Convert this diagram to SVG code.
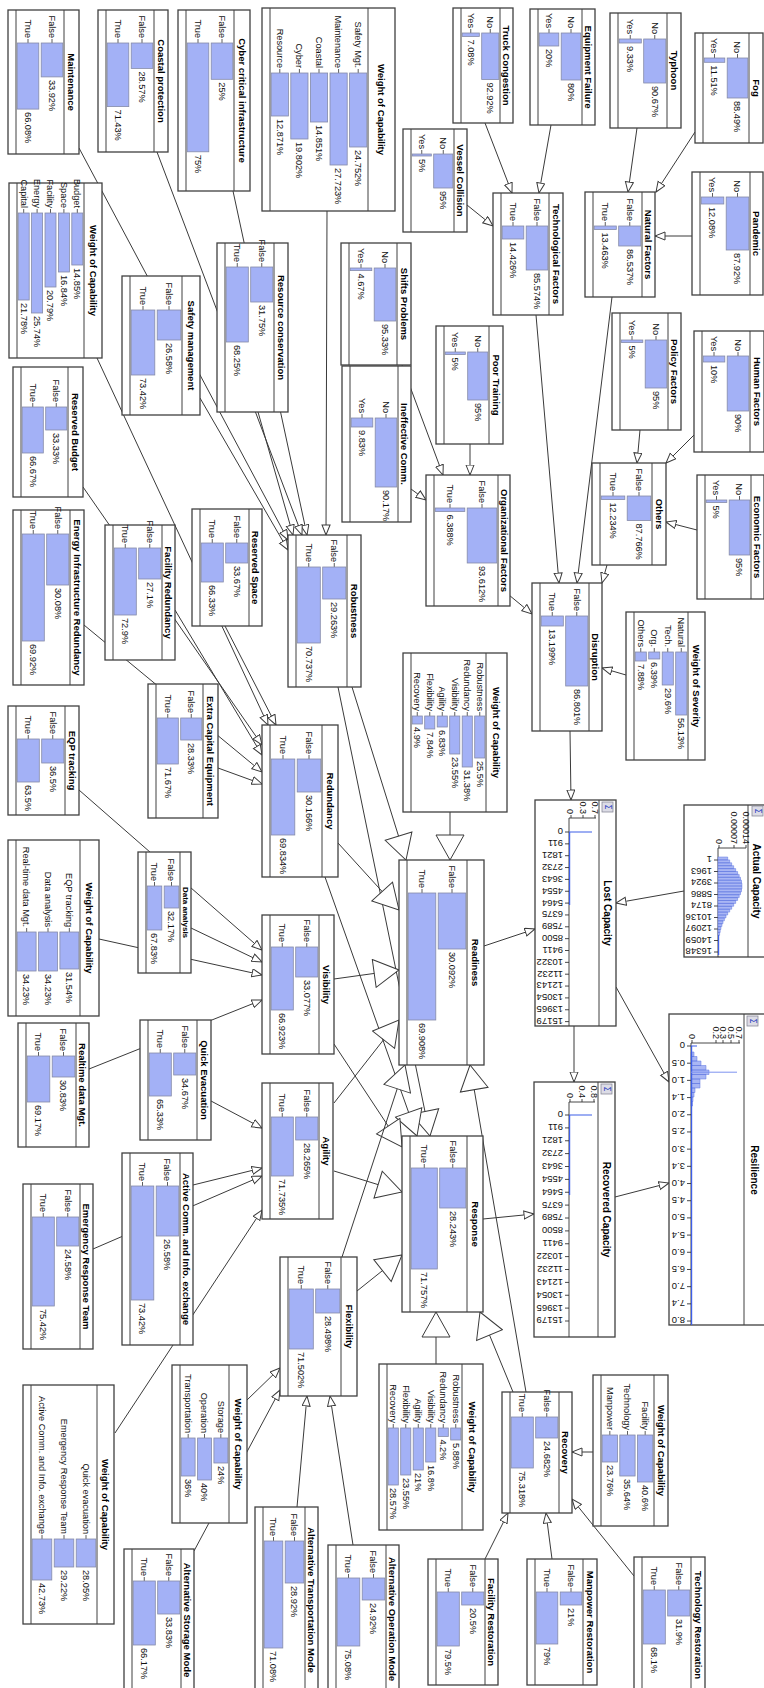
<svg xmlns="http://www.w3.org/2000/svg" width="764" height="1688" viewBox="0 0 764 1688">
<defs>
<style>
.bx{fill:#fff;stroke:#404040;stroke-width:1.3}
.ln{stroke:#404040;stroke-width:1;fill:none}
.tt{font-family:"Liberation Sans",Arial,sans-serif;font-size:9.5px;font-weight:bold;text-anchor:middle;fill:#000}
.lb{font-family:"Liberation Sans",Arial,sans-serif;font-size:9.2px;text-anchor:end;fill:#111}
.pc{font-family:"Liberation Sans",Arial,sans-serif;font-size:9.2px;fill:#111}
.tk{stroke:#333;stroke-width:.8;fill:none}
.br{fill:#a3b1f6;stroke:#858ba8;stroke-width:.8}
.ax{stroke:#333;stroke-width:.9;fill:none}
.hl{font-family:"Liberation Sans",Arial,sans-serif;font-size:9.5px;fill:#111}
.pl{font-family:"Liberation Sans",Arial,sans-serif;font-size:9px;fill:#111;text-anchor:end}
.bl{stroke:#3d5ee8;stroke-width:1.2;fill:none}
.hb{fill:#a9b6f4;stroke:#5c74e0;stroke-width:.5}
.sg{fill:#dcdce6;stroke:#8a8a9a;stroke-width:.8}
.sgt{font-family:"DejaVu Sans",sans-serif;font-size:8px;fill:#2b3fc0;text-anchor:middle}
.e{fill:none;stroke:#3a3a3a;stroke-width:1}
.s{marker-end:url(#a)}
.b{marker-end:url(#A)}
</style>
<marker id="a" markerUnits="userSpaceOnUse" viewBox="0 0 12 10" markerWidth="12" markerHeight="10" refX="10.5" refY="4.5" orient="auto"><path d="M0.5,0.5 L10.5,4.5 L0.5,8.5 z" fill="#fff" stroke="#3a3a3a" stroke-width="1"/></marker>
<marker id="A" markerUnits="userSpaceOnUse" viewBox="0 0 28 30" markerWidth="28" markerHeight="30" refX="26" refY="15" orient="auto"><path d="M1,1 L26,15 L1,29 z" fill="#fff" stroke="#3a3a3a" stroke-width="1"/></marker>
</defs>
<rect width="764" height="1688" fill="#fff"/>
<g id="connectors" class="e">
<line class="s" x1="485" y1="123" x2="512" y2="193"/>
<line class="s" x1="551" y1="125" x2="539" y2="193"/>
<line class="s" x1="467" y1="205" x2="493" y2="226"/>
<line class="s" x1="637" y1="128" x2="628" y2="192"/>
<line class="s" x1="695" y1="132" x2="656" y2="192"/>
<line class="s" x1="692" y1="236" x2="655" y2="236"/>
<line class="s" x1="612" y1="297" x2="577" y2="583"/>
<line class="s" x1="536" y1="315" x2="559" y2="583"/>
<line class="s" x1="607" y1="565" x2="602" y2="583"/>
<line class="s" x1="640" y1="430" x2="637" y2="463"/>
<line class="s" x1="694" y1="435" x2="666" y2="463"/>
<line class="s" x1="697" y1="530" x2="666" y2="522"/>
<line class="s" x1="626" y1="675" x2="602" y2="668"/>
<line class="s" x1="509" y1="595" x2="532" y2="614"/>
<line class="s" x1="402" y1="365" x2="443" y2="475"/>
<line class="s" x1="470" y1="444" x2="470" y2="475"/>
<line class="s" x1="411" y1="489" x2="426" y2="500"/>
<line class="s" x1="570" y1="731" x2="571" y2="800"/>
<line class="s" x1="684" y1="891" x2="616" y2="903"/>
<line class="s" x1="574" y1="1026" x2="574" y2="1082"/>
<line class="s" x1="616" y1="987" x2="669" y2="1082"/>
<line class="s" x1="615" y1="1197" x2="669" y2="1183"/>
<line class="s" x1="484" y1="946" x2="535" y2="929"/>
<line class="s" x1="483" y1="1219" x2="534" y2="1214"/>
<line class="s" x1="485" y1="1559" x2="508" y2="1513"/>
<line class="s" x1="552" y1="1559" x2="546" y2="1513"/>
<line class="s" x1="634" y1="1576" x2="572" y2="1499"/>
<line class="s" x1="593" y1="1452" x2="572" y2="1452"/>
<line class="b" x1="526" y1="1392" x2="470" y2="1065"/>
<line class="b" x1="513" y1="1392" x2="480" y2="1312"/>
<line class="b" x1="436" y1="1364" x2="436" y2="1312"/>
<line class="b" x1="450" y1="812" x2="450" y2="860"/>
<line class="b" x1="352" y1="687" x2="406" y2="860"/>
<line class="b" x1="338" y1="687" x2="430" y2="1136"/>
<line class="b" x1="338" y1="843" x2="399" y2="910"/>
<line class="b" x1="325" y1="877" x2="417" y2="1136"/>
<line class="b" x1="334" y1="979" x2="399" y2="970"/>
<line class="b" x1="334" y1="1044" x2="402" y2="1147"/>
<line class="b" x1="334" y1="1103" x2="399" y2="1020"/>
<line class="b" x1="334" y1="1171" x2="402" y2="1192"/>
<line class="b" x1="342" y1="1257" x2="405" y2="1065"/>
<line class="b" x1="357" y1="1291" x2="402" y2="1255"/>
<line class="s" x1="327" y1="211" x2="326" y2="535"/>
<line class="s" x1="233" y1="191" x2="307" y2="535"/>
<line class="s" x1="157" y1="152" x2="302" y2="535"/>
<line class="s" x1="258" y1="412" x2="293" y2="535"/>
<line class="s" x1="79" y1="148" x2="288" y2="540"/>
<line class="s" x1="200" y1="398" x2="288" y2="550"/>
<line class="s" x1="97" y1="358" x2="268" y2="725"/>
<line class="s" x1="225" y1="626" x2="276" y2="725"/>
<line class="s" x1="83" y1="487" x2="262" y2="745"/>
<line class="s" x1="175" y1="610" x2="262" y2="755"/>
<line class="s" x1="84" y1="625" x2="262" y2="772"/>
<line class="s" x1="218" y1="768" x2="262" y2="784"/>
<line class="s" x1="79" y1="790" x2="262" y2="950"/>
<line class="s" x1="191" y1="928" x2="262" y2="962"/>
<line class="s" x1="99" y1="939" x2="262" y2="975"/>
<line class="s" x1="89" y1="1069" x2="262" y2="1000"/>
<line class="s" x1="211" y1="1101" x2="262" y2="1128"/>
<line class="s" x1="193" y1="1185" x2="262" y2="1168"/>
<line class="s" x1="93" y1="1249" x2="262" y2="1176"/>
<line class="s" x1="115" y1="1433" x2="262" y2="1210"/>
<line class="s" x1="247" y1="1400" x2="280" y2="1368"/>
<line class="s" x1="194" y1="1551" x2="280" y2="1390"/>
<line class="s" x1="297" y1="1507" x2="307" y2="1396"/>
<line class="s" x1="353" y1="1545" x2="330" y2="1396"/>
</g>
<g id="nodes">
<g id="n-maintenance" transform="translate(79,10) rotate(90)"><rect class="bx" width="144" height="71"/><path class="ln" d="M0 15H144M0 63H144"/><text class="tt" x="72" y="10.8">Maintenance</text><path class="tk" d="M29 27H33M29 51H33"/><text class="lb" x="28" y="30.2">False</text><rect class="br" x="33" y="16.2" width="33.9" height="21.6"/><text class="pc" x="69.9" y="30.2">33.92%</text><text class="lb" x="28" y="54.2">True</text><rect class="br" x="33" y="40.2" width="66.1" height="21.6"/><text class="pc" x="102.1" y="54.2">66.08%</text></g>
<g id="n-coastal" transform="translate(168,10) rotate(90)"><rect class="bx" width="142" height="70"/><path class="ln" d="M0 14H142M0 62H142"/><text class="tt" x="71" y="10.3">Coastal protection</text><path class="tk" d="M29 26H33M29 50H33"/><text class="lb" x="28" y="29.2">False</text><rect class="br" x="33" y="15.2" width="25.4" height="21.6"/><text class="pc" x="61.4" y="29.2">28.57%</text><text class="lb" x="28" y="53.2">True</text><rect class="br" x="33" y="39.2" width="63.6" height="21.6"/><text class="pc" x="99.6" y="53.2">71.43%</text></g>
<g id="n-cyber" transform="translate(250,10) rotate(90)"><rect class="bx" width="181" height="72"/><path class="ln" d="M0 16H181M0 64H181"/><text class="tt" x="90.5" y="11.3">Cyber critical infrastructure</text><path class="tk" d="M29 28H33M29 52H33"/><text class="lb" x="28" y="31.2">False</text><rect class="br" x="33" y="17.2" width="36.3" height="21.6"/><text class="pc" x="72.3" y="31.2">25%</text><text class="lb" x="28" y="55.2">True</text><rect class="br" x="33" y="41.2" width="108.8" height="21.6"/><text class="pc" x="144.8" y="55.2">75%</text></g>
<g id="n-wcap-robustness" transform="translate(395,8) rotate(90)"><rect class="bx" width="203" height="133"/><path class="ln" d="M0 27H203M0 125H203"/><text class="tt" x="101.5" y="16.8">Weight of Capability</text><path class="tk" d="M61 36.8H65M61 56.4H65M61 76H65M61 95.6H65M61 115.2H65"/><text class="lb" x="60" y="40">Safety Mgt.</text><rect class="br" x="65" y="28.2" width="74" height="17.2"/><text class="pc" x="142" y="40">24.752%</text><text class="lb" x="60" y="59.6">Maintenance</text><rect class="br" x="65" y="47.8" width="92" height="17.2"/><text class="pc" x="160" y="59.6">27.723%</text><text class="lb" x="60" y="79.2">Coastal</text><rect class="br" x="65" y="67.4" width="49" height="17.2"/><text class="pc" x="117" y="79.2">14.851%</text><text class="lb" x="60" y="98.8">Cyber</text><rect class="br" x="65" y="87" width="66" height="17.2"/><text class="pc" x="134" y="98.8">19.802%</text><text class="lb" x="60" y="118.4">Resource</text><rect class="br" x="65" y="106.6" width="43" height="17.2"/><text class="pc" x="111" y="118.4">12.871%</text></g>
<g id="n-truck" transform="translate(513,8) rotate(90)"><rect class="bx" width="115" height="60"/><path class="ln" d="M0 13H115M0 52H115"/><text class="tt" x="57.5" y="9.8">Truck Congestion</text><path class="tk" d="M21 22.75H25M21 42.25H25"/><text class="lb" x="20" y="25.95">No</text><rect class="br" x="25" y="14.2" width="46.5" height="17.1"/><text class="pc" x="74.5" y="25.95">92.92%</text><text class="lb" x="20" y="45.45">Yes</text><rect class="br" x="25" y="33.7" width="3.5" height="17.1"/><text class="pc" x="31.5" y="45.45">7.08%</text></g>
<g id="n-equipment" transform="translate(595,9) rotate(90)"><rect class="bx" width="116" height="65"/><path class="ln" d="M0 13H116M0 57H116"/><text class="tt" x="58" y="9.8">Equipment Failure</text><path class="tk" d="M20 24H24M20 46H24"/><text class="lb" x="19" y="27.2">No</text><rect class="br" x="24" y="14.2" width="47" height="19.6"/><text class="pc" x="74" y="27.2">80%</text><text class="lb" x="19" y="49.2">Yes</text><rect class="br" x="24" y="36.2" width="13" height="19.6"/><text class="pc" x="40" y="49.2">20%</text></g>
<g id="n-typhoon" transform="translate(681,13) rotate(90)"><rect class="bx" width="115" height="71"/><path class="ln" d="M0 14H115M0 63H115"/><text class="tt" x="57.5" y="10.3">Typhoon</text><path class="tk" d="M22 26.25H26M22 50.75H26"/><text class="lb" x="21" y="29.45">No</text><rect class="br" x="26" y="15.2" width="44" height="22.1"/><text class="pc" x="73" y="29.45">90.67%</text><text class="lb" x="21" y="53.95">Yes</text><rect class="br" x="26" y="39.7" width="4" height="22.1"/><text class="pc" x="33" y="53.95">9.33%</text></g>
<g id="n-fog" transform="translate(763,33) rotate(90)"><rect class="bx" width="110" height="68"/><path class="ln" d="M0 14H110M0 60H110"/><text class="tt" x="55" y="10.3">Fog</text><path class="tk" d="M21 25.5H25M21 48.5H25"/><text class="lb" x="20" y="28.7">No</text><rect class="br" x="25" y="15.2" width="40" height="20.6"/><text class="pc" x="68" y="28.7">88.49%</text><text class="lb" x="20" y="51.7">Yes</text><rect class="br" x="25" y="38.2" width="4.3" height="20.6"/><text class="pc" x="32.3" y="51.7">11.51%</text></g>
<g id="n-pandemic" transform="translate(763,172) rotate(90)"><rect class="bx" width="123" height="71"/><path class="ln" d="M0 13H123M0 63H123"/><text class="tt" x="61.5" y="9.8">Pandemic</text><path class="tk" d="M21 25.5H25M21 50.5H25"/><text class="lb" x="20" y="28.7">No</text><rect class="br" x="25" y="14.2" width="53" height="22.6"/><text class="pc" x="81" y="28.7">87.92%</text><text class="lb" x="20" y="53.7">Yes</text><rect class="br" x="25" y="39.2" width="7" height="22.6"/><text class="pc" x="35" y="53.7">12.08%</text></g>
<g id="n-natural" transform="translate(655,192) rotate(90)"><rect class="bx" width="105" height="70"/><path class="ln" d="M0 13H105M0 62H105"/><text class="tt" x="52.5" y="9.8">Natural Factors</text><path class="tk" d="M30 25.25H34M30 49.75H34"/><text class="lb" x="29" y="28.45">False</text><rect class="br" x="34" y="14.2" width="20" height="22.1"/><text class="pc" x="57" y="28.45">86.537%</text><text class="lb" x="29" y="52.95">True</text><rect class="br" x="34" y="38.7" width="3.5" height="22.1"/><text class="pc" x="40.5" y="52.95">13.463%</text></g>
<g id="n-technological" transform="translate(563,193) rotate(90)"><rect class="bx" width="122" height="70"/><path class="ln" d="M0 14H122M0 62H122"/><text class="tt" x="61" y="10.3">Technological Factors</text><path class="tk" d="M29 26H33M29 50H33"/><text class="lb" x="28" y="29.2">False</text><rect class="br" x="33" y="15.2" width="44" height="21.6"/><text class="pc" x="80" y="29.2">85.574%</text><text class="lb" x="28" y="53.2">True</text><rect class="br" x="33" y="39.2" width="13" height="21.6"/><text class="pc" x="49" y="53.2">14.426%</text></g>
<g id="n-vessel" transform="translate(467,129) rotate(90)"><rect class="bx" width="103" height="64"/><path class="ln" d="M0 13H103M0 56H103"/><text class="tt" x="51.5" y="9.8">Vessel Collision</text><path class="tk" d="M21 23.75H25M21 45.25H25"/><text class="lb" x="20" y="26.95">No</text><rect class="br" x="25" y="14.2" width="34" height="19.1"/><text class="pc" x="62" y="26.95">95%</text><text class="lb" x="20" y="48.45">Yes</text><rect class="br" x="25" y="35.7" width="2" height="19.1"/><text class="pc" x="30" y="48.45">5%</text></g>
<g id="n-safety" transform="translate(200,276) rotate(90)"><rect class="bx" width="139" height="78"/><path class="ln" d="M0 18H139M0 70H139"/><text class="tt" x="69.5" y="12.3">Safety management</text><path class="tk" d="M30 31H34M30 57H34"/><text class="lb" x="29" y="34.2">False</text><rect class="br" x="34" y="19.2" width="30" height="23.6"/><text class="pc" x="67" y="34.2">26.58%</text><text class="lb" x="29" y="60.2">True</text><rect class="br" x="34" y="45.2" width="65" height="23.6"/><text class="pc" x="102" y="60.2">73.42%</text></g>
<g id="n-resource" transform="translate(288,243) rotate(90)"><rect class="bx" width="169" height="71"/><path class="ln" d="M0 14H169M0 63H169"/><text class="tt" x="84.5" y="10.3">Resource conservation</text><path class="tk" d="M20 26.25H24M20 50.75H24"/><text class="lb" x="19" y="29.45">False</text><rect class="br" x="24" y="15.2" width="35" height="22.1"/><text class="pc" x="62" y="29.45">31.75%</text><text class="lb" x="19" y="53.95">True</text><rect class="br" x="24" y="39.7" width="75" height="22.1"/><text class="pc" x="102" y="53.95">68.25%</text></g>
<g id="n-shifts" transform="translate(411,243) rotate(90)"><rect class="bx" width="122" height="70"/><path class="ln" d="M0 14H122M0 62H122"/><text class="tt" x="61" y="10.3">Shifts Problems</text><path class="tk" d="M21 26H25M21 50H25"/><text class="lb" x="20" y="29.2">No</text><rect class="br" x="25" y="15.2" width="53" height="21.6"/><text class="pc" x="81" y="29.2">95.33%</text><text class="lb" x="20" y="53.2">Yes</text><rect class="br" x="25" y="39.2" width="2.6" height="21.6"/><text class="pc" x="30.6" y="53.2">4.67%</text></g>
<g id="n-poortraining" transform="translate(503,326) rotate(90)"><rect class="bx" width="118" height="67"/><path class="ln" d="M0 14H118M0 59H118"/><text class="tt" x="59" y="10.3">Poor Training</text><path class="tk" d="M22 25.25H26M22 47.75H26"/><text class="lb" x="21" y="28.45">No</text><rect class="br" x="26" y="15.2" width="48" height="20.1"/><text class="pc" x="77" y="28.45">95%</text><text class="lb" x="21" y="50.95">Yes</text><rect class="br" x="26" y="37.7" width="2.5" height="20.1"/><text class="pc" x="31.5" y="50.95">5%</text></g>
<g id="n-policy" transform="translate(681,313) rotate(90)"><rect class="bx" width="117" height="69"/><path class="ln" d="M0 13H117M0 61H117"/><text class="tt" x="58.5" y="9.8">Policy Factors</text><path class="tk" d="M23 25H27M23 49H27"/><text class="lb" x="22" y="28.2">No</text><rect class="br" x="27" y="14.2" width="48" height="21.6"/><text class="pc" x="78" y="28.2">95%</text><text class="lb" x="22" y="52.2">Yes</text><rect class="br" x="27" y="38.2" width="2.5" height="21.6"/><text class="pc" x="32.5" y="52.2">5%</text></g>
<g id="n-human" transform="translate(764,331) rotate(90)"><rect class="bx" width="121" height="70"/><path class="ln" d="M0 14H121M0 62H121"/><text class="tt" x="60.5" y="10.3">Human Factors</text><path class="tk" d="M21 26H25M21 50H25"/><text class="lb" x="20" y="29.2">No</text><rect class="br" x="25" y="15.2" width="55" height="21.6"/><text class="pc" x="83" y="29.2">90%</text><text class="lb" x="20" y="53.2">Yes</text><rect class="br" x="25" y="39.2" width="6" height="21.6"/><text class="pc" x="34" y="53.2">10%</text></g>
<g id="n-wcap-redundancy" transform="translate(102,183) rotate(90)"><rect class="bx" width="175" height="93"/><path class="ln" d="M0 18H175M0 85H175"/><text class="tt" x="87.5" y="12.3">Weight of Capability</text><path class="tk" d="M26 24.7H30M26 38.1H30M26 51.5H30M26 64.9H30M26 78.3H30"/><text class="lb" x="25" y="27.9">Budget</text><rect class="br" x="30" y="19.2" width="52" height="11"/><text class="pc" x="85" y="27.9">14.85%</text><text class="lb" x="25" y="41.3">Space</text><rect class="br" x="30" y="32.6" width="59" height="11"/><text class="pc" x="92" y="41.3">16.84%</text><text class="lb" x="25" y="54.7">Facility</text><rect class="br" x="30" y="46" width="74" height="11"/><text class="pc" x="107" y="54.7">20.79%</text><text class="lb" x="25" y="68.1">Energy</text><rect class="br" x="30" y="59.4" width="100" height="11"/><text class="pc" x="133" y="68.1">25.74%</text><text class="lb" x="25" y="81.5">Capital</text><rect class="br" x="30" y="72.8" width="87" height="11"/><text class="pc" x="120" y="81.5">21.78%</text></g>
<g id="n-reservedbudget" transform="translate(83,367) rotate(90)"><rect class="bx" width="130" height="70"/><path class="ln" d="M0 15H130M0 62H130"/><text class="tt" x="65" y="10.8">Reserved Budget</text><path class="tk" d="M36 26.75H40M36 50.25H40"/><text class="lb" x="35" y="29.95">False</text><rect class="br" x="40" y="16.2" width="23" height="21.1"/><text class="pc" x="66" y="29.95">33.33%</text><text class="lb" x="35" y="53.45">True</text><rect class="br" x="40" y="39.7" width="46" height="21.1"/><text class="pc" x="89" y="53.45">66.67%</text></g>
<g id="n-ineffective" transform="translate(411,366) rotate(90)"><rect class="bx" width="156" height="69"/><path class="ln" d="M0 13H156M0 61H156"/><text class="tt" x="78" y="9.8">Ineffective Comm.</text><path class="tk" d="M48 25H52M48 49H52"/><text class="lb" x="47" y="28.2">No</text><rect class="br" x="52" y="14.2" width="69" height="21.6"/><text class="pc" x="124" y="28.2">90.17%</text><text class="lb" x="47" y="52.2">Yes</text><rect class="br" x="52" y="38.2" width="9" height="21.6"/><text class="pc" x="64" y="52.2">9.83%</text></g>
<g id="n-organizational" transform="translate(510,475) rotate(90)"><rect class="bx" width="131" height="84"/><path class="ln" d="M0 12H131M0 76H131"/><text class="tt" x="65.5" y="9.3">Organizational Factors</text><path class="tk" d="M29 28H33M29 60H33"/><text class="lb" x="28" y="31.2">False</text><rect class="br" x="33" y="13.2" width="55" height="29.6"/><text class="pc" x="91" y="31.2">93.612%</text><text class="lb" x="28" y="63.2">True</text><rect class="br" x="33" y="45.2" width="3.5" height="29.6"/><text class="pc" x="39.5" y="63.2">6.388%</text></g>
<g id="n-others" transform="translate(666,463) rotate(90)"><rect class="bx" width="102" height="74"/><path class="ln" d="M0 14H102M0 66H102"/><text class="tt" x="51" y="10.3">Others</text><path class="tk" d="M29 27H33M29 53H33"/><text class="lb" x="28" y="30.2">False</text><rect class="br" x="33" y="15.2" width="24.5" height="23.6"/><text class="pc" x="60.5" y="30.2">87.766%</text><text class="lb" x="28" y="56.2">True</text><rect class="br" x="33" y="41.2" width="3.5" height="23.6"/><text class="pc" x="39.5" y="56.2">12.234%</text></g>
<g id="n-economic" transform="translate(764,475) rotate(90)"><rect class="bx" width="124" height="67"/><path class="ln" d="M0 13H124M0 59H124"/><text class="tt" x="62" y="9.8">Economic Factors</text><path class="tk" d="M21 24.5H25M21 47.5H25"/><text class="lb" x="20" y="27.7">No</text><rect class="br" x="25" y="14.2" width="55" height="20.6"/><text class="pc" x="83" y="27.7">95%</text><text class="lb" x="20" y="50.7">Yes</text><rect class="br" x="25" y="37.2" width="2.5" height="20.6"/><text class="pc" x="30.5" y="50.7">5%</text></g>
<g id="n-energy" transform="translate(84,510) rotate(90)"><rect class="bx" width="175" height="71"/><path class="ln" d="M0 14H175M0 63H175"/><text class="tt" x="87.5" y="10.3">Energy Infrastructure Redundancy</text><path class="tk" d="M20 26.25H24M20 50.75H24"/><text class="lb" x="19" y="29.45">False</text><rect class="br" x="24" y="15.2" width="51" height="22.1"/><text class="pc" x="78" y="29.45">30.08%</text><text class="lb" x="19" y="53.95">True</text><rect class="br" x="24" y="39.7" width="107" height="22.1"/><text class="pc" x="134" y="53.95">69.92%</text></g>
<g id="n-facilityred" transform="translate(175,525) rotate(90)"><rect class="bx" width="135" height="70"/><path class="ln" d="M0 13H135M0 62H135"/><text class="tt" x="67.5" y="9.8">Facility Redundancy</text><path class="tk" d="M19 25.25H23M19 49.75H23"/><text class="lb" x="18" y="28.45">False</text><rect class="br" x="23" y="14.2" width="31" height="22.1"/><text class="pc" x="57" y="28.45">27.1%</text><text class="lb" x="18" y="52.95">True</text><rect class="br" x="23" y="38.7" width="67" height="22.1"/><text class="pc" x="93" y="52.95">72.9%</text></g>
<g id="n-reservedspace" transform="translate(262,509) rotate(90)"><rect class="bx" width="117" height="70"/><path class="ln" d="M0 13H117M0 62H117"/><text class="tt" x="58.5" y="9.8">Reserved Space</text><path class="tk" d="M30 25.25H34M30 49.75H34"/><text class="lb" x="29" y="28.45">False</text><rect class="br" x="34" y="14.2" width="20" height="22.1"/><text class="pc" x="57" y="28.45">33.67%</text><text class="lb" x="29" y="52.95">True</text><rect class="br" x="34" y="38.7" width="39" height="22.1"/><text class="pc" x="76" y="52.95">66.33%</text></g>
<g id="n-robustness" transform="translate(361,535) rotate(90)"><rect class="bx" width="152" height="73"/><path class="ln" d="M0 14H152M0 65H152"/><text class="tt" x="76" y="10.3">Robustness</text><path class="tk" d="M28 26.75H32M28 52.25H32"/><text class="lb" x="27" y="29.95">False</text><rect class="br" x="32" y="15.2" width="32" height="23.1"/><text class="pc" x="67" y="29.95">29.263%</text><text class="lb" x="27" y="55.45">True</text><rect class="br" x="32" y="40.7" width="76" height="23.1"/><text class="pc" x="111" y="55.45">70.737%</text></g>
<g id="n-disruption" transform="translate(602,583) rotate(90)"><rect class="bx" width="148" height="70"/><path class="ln" d="M0 13H148M0 62H148"/><text class="tt" x="74" y="9.8">Disruption</text><path class="tk" d="M29 25.25H33M29 49.75H33"/><text class="lb" x="28" y="28.45">False</text><rect class="br" x="33" y="14.2" width="70" height="22.1"/><text class="pc" x="106" y="28.45">86.801%</text><text class="lb" x="28" y="52.95">True</text><rect class="br" x="33" y="38.7" width="10" height="22.1"/><text class="pc" x="46" y="52.95">13.199%</text></g>
<g id="n-severity" transform="translate(705,612) rotate(90)"><rect class="bx" width="148" height="79"/><path class="ln" d="M0 17H148M0 71H148"/><text class="tt" x="74" y="11.8">Weight of Severity</text><path class="tk" d="M36 23.75H40M36 37.25H40M36 50.75H40M36 64.25H40"/><text class="lb" x="35" y="26.95">Natural</text><rect class="br" x="40" y="18.2" width="63" height="11.1"/><text class="pc" x="106" y="26.95">56.13%</text><text class="lb" x="35" y="40.45">Tech.</text><rect class="br" x="40" y="31.7" width="33" height="11.1"/><text class="pc" x="76" y="40.45">29.6%</text><text class="lb" x="35" y="53.95">Org.</text><rect class="br" x="40" y="45.2" width="7" height="11.1"/><text class="pc" x="50" y="53.95">6.39%</text><text class="lb" x="35" y="67.45">Others</text><rect class="br" x="40" y="58.7" width="9" height="11.1"/><text class="pc" x="52" y="67.45">7.88%</text></g>
<g id="n-eqp" transform="translate(79,706) rotate(90)"><rect class="bx" width="109" height="71"/><path class="ln" d="M0 14H109M0 63H109"/><text class="tt" x="54.5" y="10.3">EQP tracking</text><path class="tk" d="M29 26.25H33M29 50.75H33"/><text class="lb" x="28" y="29.45">False</text><rect class="br" x="33" y="15.2" width="24" height="22.1"/><text class="pc" x="60" y="29.45">36.5%</text><text class="lb" x="28" y="53.95">True</text><rect class="br" x="33" y="39.7" width="43" height="22.1"/><text class="pc" x="79" y="53.95">63.5%</text></g>
<g id="n-extracapital" transform="translate(218,684) rotate(90)"><rect class="bx" width="134" height="70"/><path class="ln" d="M0 15H134M0 62H134"/><text class="tt" x="67" y="10.8">Extra Capital Equipment</text><path class="tk" d="M30 26.75H34M30 50.25H34"/><text class="lb" x="29" y="29.95">False</text><rect class="br" x="34" y="16.2" width="22" height="21.1"/><text class="pc" x="59" y="29.95">28.33%</text><text class="lb" x="29" y="53.45">True</text><rect class="br" x="34" y="39.7" width="46" height="21.1"/><text class="pc" x="83" y="53.45">71.67%</text></g>
<g id="n-redundancy" transform="translate(338,725) rotate(90)"><rect class="bx" width="152" height="76"/><path class="ln" d="M0 16H152M0 68H152"/><text class="tt" x="76" y="11.3">Redundancy</text><path class="tk" d="M30 29H34M30 55H34"/><text class="lb" x="29" y="32.2">False</text><rect class="br" x="34" y="17.2" width="33" height="23.6"/><text class="pc" x="70" y="32.2">30.166%</text><text class="lb" x="29" y="58.2">True</text><rect class="br" x="34" y="43.2" width="76" height="23.6"/><text class="pc" x="113" y="58.2">69.834%</text></g>
<g id="n-wcap-readiness" transform="translate(507,653) rotate(90)"><rect class="bx" width="159" height="104"/><path class="ln" d="M0 21H159M0 96H159"/><text class="tt" x="79.5" y="13.8">Weight of Capability</text><path class="tk" d="M59 27.25H63M59 39.75H63M59 52.25H63M59 64.75H63M59 77.25H63M59 89.75H63"/><text class="lb" x="58" y="30.45">Robustness</text><rect class="br" x="63" y="22.2" width="42" height="10.1"/><text class="pc" x="108" y="30.45">25.5%</text><text class="lb" x="58" y="42.95">Redundancy</text><rect class="br" x="63" y="34.7" width="51" height="10.1"/><text class="pc" x="117" y="42.95">31.38%</text><text class="lb" x="58" y="55.45">Visibility</text><rect class="br" x="63" y="47.2" width="38" height="10.1"/><text class="pc" x="104" y="55.45">23.55%</text><text class="lb" x="58" y="67.95">Agility</text><rect class="br" x="63" y="59.7" width="11" height="10.1"/><text class="pc" x="77" y="67.95">6.83%</text><text class="lb" x="58" y="80.45">Flexibility</text><rect class="br" x="63" y="72.2" width="13" height="10.1"/><text class="pc" x="79" y="80.45">7.84%</text><text class="lb" x="58" y="92.95">Recovery</text><rect class="br" x="63" y="84.7" width="8" height="10.1"/><text class="pc" x="74" y="92.95">4.9%</text></g>
<g id="n-wcap-visibility" transform="translate(99,840) rotate(90)"><rect class="bx" width="176" height="91"/><path class="ln" d="M0 19H176M0 83H176"/><text class="tt" x="88" y="12.8">Weight of Capability</text><path class="tk" d="M88 29.67H92M88 51H92M88 72.33H92"/><text class="lb" x="87" y="32.87">EQP tracking</text><rect class="br" x="92" y="20.2" width="37" height="18.9"/><text class="pc" x="132" y="32.87">31.54%</text><text class="lb" x="87" y="54.2">Data analysis</text><rect class="br" x="92" y="41.5" width="39" height="18.9"/><text class="pc" x="134" y="54.2">34.23%</text><text class="lb" x="87" y="75.53">Real-time data Mgt.</text><rect class="br" x="92" y="62.9" width="39" height="18.9"/><text class="pc" x="134" y="75.53">34.23%</text></g>
<g id="n-dataanalysis" transform="translate(191,852) rotate(90)"><rect class="bx" width="121" height="53"/><path class="ln" d="M0 11H121M0 45H121"/><text class="tt" x="60.5" y="8.3" style="font-size:8px">Data analysis</text><path class="tk" d="M30 19.5H34M30 36.5H34"/><text class="lb" x="29" y="22.7">False</text><rect class="br" x="34" y="12.2" width="22" height="14.6"/><text class="pc" x="59" y="22.7">32.17%</text><text class="lb" x="29" y="39.7">True</text><rect class="br" x="34" y="29.2" width="44" height="14.6"/><text class="pc" x="81" y="39.7">67.83%</text></g>
<g id="n-visibility" transform="translate(334,915) rotate(90)"><rect class="bx" width="139" height="72"/><path class="ln" d="M0 15H139M0 64H139"/><text class="tt" x="69.5" y="10.8">Visibility</text><path class="tk" d="M28 27.25H32M28 51.75H32"/><text class="lb" x="27" y="30.45">False</text><rect class="br" x="32" y="16.2" width="30" height="22.1"/><text class="pc" x="65" y="30.45">33.077%</text><text class="lb" x="27" y="54.95">True</text><rect class="br" x="32" y="40.7" width="63" height="22.1"/><text class="pc" x="98" y="54.95">66.923%</text></g>
<g id="n-readiness" transform="translate(484,860) rotate(90)"><rect class="bx" width="205" height="85"/><path class="ln" d="M0 17H205M0 77H205"/><text class="tt" x="102.5" y="11.8">Readiness</text><path class="tk" d="M29 32H33M29 62H33"/><text class="lb" x="28" y="35.2">False</text><rect class="br" x="33" y="18.2" width="56" height="27.6"/><text class="pc" x="92" y="35.2">30.092%</text><text class="lb" x="28" y="65.2">True</text><rect class="br" x="33" y="48.2" width="127" height="27.6"/><text class="pc" x="163" y="65.2">69.908%</text></g>
<g id="n-realtime" transform="translate(89,1023) rotate(90)"><rect class="bx" width="124" height="71"/><path class="ln" d="M0 13H124M0 63H124"/><text class="tt" x="62" y="9.8">Realtime data Mgt.</text><path class="tk" d="M29 25.5H33M29 50.5H33"/><text class="lb" x="28" y="28.7">False</text><rect class="br" x="33" y="14.2" width="21" height="22.6"/><text class="pc" x="57" y="28.7">30.83%</text><text class="lb" x="28" y="53.7">True</text><rect class="br" x="33" y="39.2" width="46" height="22.6"/><text class="pc" x="82" y="53.7">69.17%</text></g>
<g id="n-quickevac" transform="translate(211,1020) rotate(90)"><rect class="bx" width="120" height="71"/><path class="ln" d="M0 14H120M0 63H120"/><text class="tt" x="60" y="10.3">Quick Evacuation</text><path class="tk" d="M29 26.25H33M29 50.75H33"/><text class="lb" x="28" y="29.45">False</text><rect class="br" x="33" y="15.2" width="22" height="22.1"/><text class="pc" x="58" y="29.45">34.67%</text><text class="lb" x="28" y="53.95">True</text><rect class="br" x="33" y="39.7" width="43" height="22.1"/><text class="pc" x="79" y="53.95">65.33%</text></g>
<g id="n-agility" transform="translate(333,1083) rotate(90)"><rect class="bx" width="136" height="71"/><path class="ln" d="M0 14H136M0 63H136"/><text class="tt" x="68" y="10.3">Agility</text><path class="tk" d="M30 26.25H34M30 50.75H34"/><text class="lb" x="29" y="29.45">False</text><rect class="br" x="34" y="15.2" width="23" height="22.1"/><text class="pc" x="60" y="29.45">28.265%</text><text class="lb" x="29" y="53.95">True</text><rect class="br" x="34" y="39.7" width="59" height="22.1"/><text class="pc" x="96" y="53.95">71.735%</text></g>
<g id="n-response" transform="translate(483,1136) rotate(90)"><rect class="bx" width="176" height="81"/><path class="ln" d="M0 16H176M0 73H176"/><text class="tt" x="88" y="11.3">Response</text><path class="tk" d="M28 30.25H32M28 58.75H32"/><text class="lb" x="27" y="33.45">False</text><rect class="br" x="32" y="17.2" width="40" height="26.1"/><text class="pc" x="75" y="33.45">28.243%</text><text class="lb" x="27" y="61.95">True</text><rect class="br" x="32" y="45.7" width="101" height="26.1"/><text class="pc" x="136" y="61.95">71.757%</text></g>
<g id="n-emergency" transform="translate(93,1184) rotate(90)"><rect class="bx" width="165" height="70"/><path class="ln" d="M0 13H165M0 62H165"/><text class="tt" x="82.5" y="9.8">Emergency Response Team</text><path class="tk" d="M29 25.25H33M29 49.75H33"/><text class="lb" x="28" y="28.45">False</text><rect class="br" x="33" y="14.2" width="29" height="22.1"/><text class="pc" x="65" y="28.45">24.58%</text><text class="lb" x="28" y="52.95">True</text><rect class="br" x="33" y="38.7" width="89" height="22.1"/><text class="pc" x="125" y="52.95">75.42%</text></g>
<g id="n-activecomm" transform="translate(193,1153) rotate(90)"><rect class="bx" width="192" height="71"/><path class="ln" d="M0 13H192M0 63H192"/><text class="tt" x="96" y="9.8">Active Comm. and Info. exchange</text><path class="tk" d="M29 25.5H33M29 50.5H33"/><text class="lb" x="28" y="28.7">False</text><rect class="br" x="33" y="14.2" width="50" height="22.6"/><text class="pc" x="86" y="28.7">26.58%</text><text class="lb" x="28" y="53.7">True</text><rect class="br" x="33" y="39.2" width="114" height="22.6"/><text class="pc" x="150" y="53.7">73.42%</text></g>
<g id="n-flexibility" transform="translate(357,1257) rotate(90)"><rect class="bx" width="139" height="77"/><path class="ln" d="M0 16H139M0 69H139"/><text class="tt" x="69.5" y="11.3">Flexibility</text><path class="tk" d="M28 29.25H32M28 55.75H32"/><text class="lb" x="27" y="32.45">False</text><rect class="br" x="32" y="17.2" width="24" height="24.1"/><text class="pc" x="59" y="32.45">28.498%</text><text class="lb" x="27" y="58.95">True</text><rect class="br" x="32" y="43.7" width="60" height="24.1"/><text class="pc" x="95" y="58.95">71.502%</text></g>
<g id="n-wcap-agility" transform="translate(114,1385) rotate(90)"><rect class="bx" width="239" height="91"/><path class="ln" d="M0 17H239M0 83H239"/><text class="tt" x="119.5" y="11.8">Weight of Capability</text><path class="tk" d="M150 28H154M150 50H154M150 72H154"/><text class="lb" x="149" y="31.2">Quick evacuation</text><rect class="br" x="154" y="18.2" width="28" height="19.6"/><text class="pc" x="185" y="31.2">28.05%</text><text class="lb" x="149" y="53.2">Emergency Response Team</text><rect class="br" x="154" y="40.2" width="28" height="19.6"/><text class="pc" x="185" y="53.2">29.22%</text><text class="lb" x="149" y="75.2">Active Comm. and Info. exchange</text><rect class="br" x="154" y="62.2" width="41" height="19.6"/><text class="pc" x="198" y="75.2">42.73%</text></g>
<g id="n-wcap-flexibility" transform="translate(247,1365) rotate(90)"><rect class="bx" width="158" height="75"/><path class="ln" d="M0 18H158M0 67H158"/><text class="tt" x="79" y="12.3">Weight of Capability</text><path class="tk" d="M69 26.17H73M69 42.5H73M69 58.83H73"/><text class="lb" x="68" y="29.37">Storage</text><rect class="br" x="73" y="19.2" width="25" height="13.9"/><text class="pc" x="101" y="29.37">24%</text><text class="lb" x="68" y="45.7">Operation</text><rect class="br" x="73" y="35.5" width="42" height="13.9"/><text class="pc" x="118" y="45.7">40%</text><text class="lb" x="68" y="62.03">Transportation</text><rect class="br" x="73" y="51.9" width="38" height="13.9"/><text class="pc" x="114" y="62.03">36%</text></g>
<g id="n-altstorage" transform="translate(194,1549) rotate(90)"><rect class="bx" width="142" height="70"/><path class="ln" d="M0 13H142M0 62H142"/><text class="tt" x="71" y="9.8">Alternative Storage Mode</text><path class="tk" d="M28 25.25H32M28 49.75H32"/><text class="lb" x="27" y="28.45">False</text><rect class="br" x="32" y="14.2" width="33" height="22.1"/><text class="pc" x="68" y="28.45">33.83%</text><text class="lb" x="27" y="52.95">True</text><rect class="br" x="32" y="38.7" width="64" height="22.1"/><text class="pc" x="99" y="52.95">66.17%</text></g>
<g id="n-alttransport" transform="translate(318,1507) rotate(90)"><rect class="bx" width="186" height="63"/><path class="ln" d="M0 13H186M0 55H186"/><text class="tt" x="93" y="9.8">Alternative Transportation Mode</text><path class="tk" d="M30 23.5H34M30 44.5H34"/><text class="lb" x="29" y="26.7">False</text><rect class="br" x="34" y="14.2" width="42" height="18.6"/><text class="pc" x="79" y="26.7">28.92%</text><text class="lb" x="29" y="47.7">True</text><rect class="br" x="34" y="35.2" width="107" height="18.6"/><text class="pc" x="144" y="47.7">71.08%</text></g>
<g id="n-altoperation" transform="translate(399,1545) rotate(90)"><rect class="bx" width="148" height="71"/><path class="ln" d="M0 13H148M0 63H148"/><text class="tt" x="74" y="9.8">Alternative Operation Mode</text><path class="tk" d="M29 25.5H33M29 50.5H33"/><text class="lb" x="28" y="28.7">False</text><rect class="br" x="33" y="14.2" width="22" height="22.6"/><text class="pc" x="58" y="28.7">24.92%</text><text class="lb" x="28" y="53.7">True</text><rect class="br" x="33" y="39.2" width="68" height="22.6"/><text class="pc" x="104" y="53.7">75.08%</text></g>
<g id="n-wcap-response" transform="translate(483,1364) rotate(90)"><rect class="bx" width="166" height="104"/><path class="ln" d="M0 21H166M0 96H166"/><text class="tt" x="83" y="13.8">Weight of Capability</text><path class="tk" d="M60 27.25H64M60 39.75H64M60 52.25H64M60 64.75H64M60 77.25H64M60 89.75H64"/><text class="lb" x="59" y="30.45">Robustness</text><rect class="br" x="64" y="22.2" width="12" height="10.1"/><text class="pc" x="79" y="30.45">5.88%</text><text class="lb" x="59" y="42.95">Redundancy</text><rect class="br" x="64" y="34.7" width="8.4" height="10.1"/><text class="pc" x="75.4" y="42.95">4.2%</text><text class="lb" x="59" y="55.45">Visibility</text><rect class="br" x="64" y="47.2" width="34" height="10.1"/><text class="pc" x="101" y="55.45">16.8%</text><text class="lb" x="59" y="67.95">Agility</text><rect class="br" x="64" y="59.7" width="42" height="10.1"/><text class="pc" x="109" y="67.95">21%</text><text class="lb" x="59" y="80.45">Flexibility</text><rect class="br" x="64" y="72.2" width="47" height="10.1"/><text class="pc" x="114" y="80.45">23.55%</text><text class="lb" x="59" y="92.95">Recovery</text><rect class="br" x="64" y="84.7" width="57" height="10.1"/><text class="pc" x="124" y="92.95">28.57%</text></g>
<g id="n-facilityrest" transform="translate(498,1559) rotate(90)"><rect class="bx" width="126" height="70"/><path class="ln" d="M0 13H126M0 62H126"/><text class="tt" x="63" y="9.8">Facility Restoration</text><path class="tk" d="M29 25.25H33M29 49.75H33"/><text class="lb" x="28" y="28.45">False</text><rect class="br" x="33" y="14.2" width="13" height="22.1"/><text class="pc" x="49" y="28.45">20.5%</text><text class="lb" x="28" y="52.95">True</text><rect class="br" x="33" y="38.7" width="54" height="22.1"/><text class="pc" x="90" y="52.95">79.5%</text></g>
<g id="n-recovery" transform="translate(572,1392) rotate(90)"><rect class="bx" width="121" height="70"/><path class="ln" d="M0 13H121M0 62H121"/><text class="tt" x="60.5" y="9.8">Recovery</text><path class="tk" d="M21 25.25H25M21 49.75H25"/><text class="lb" x="20" y="28.45">False</text><rect class="br" x="25" y="14.2" width="21" height="22.1"/><text class="pc" x="49" y="28.45">24.682%</text><text class="lb" x="20" y="52.95">True</text><rect class="br" x="25" y="38.7" width="51" height="22.1"/><text class="pc" x="79" y="52.95">75.318%</text></g>
<g id="n-wcap-recovery" transform="translate(668,1375) rotate(90)"><rect class="bx" width="151" height="75"/><path class="ln" d="M0 14H151M0 67H151"/><text class="tt" x="75.5" y="10.3">Weight of Capability</text><path class="tk" d="M56 22.83H60M56 40.5H60M56 58.17H60"/><text class="lb" x="55" y="26.03">Facility</text><rect class="br" x="60" y="15.2" width="47" height="15.3"/><text class="pc" x="110" y="26.03">40.6%</text><text class="lb" x="55" y="43.7">Technology</text><rect class="br" x="60" y="32.9" width="41" height="15.3"/><text class="pc" x="104" y="43.7">35.64%</text><text class="lb" x="55" y="61.37">Manpower</text><rect class="br" x="60" y="50.5" width="27" height="15.3"/><text class="pc" x="90" y="61.37">23.76%</text></g>
<g id="n-manpowerrest" transform="translate(597,1559) rotate(90)"><rect class="bx" width="126" height="70"/><path class="ln" d="M0 14H126M0 62H126"/><text class="tt" x="63" y="10.3">Manpower Restoration</text><path class="tk" d="M29 26H33M29 50H33"/><text class="lb" x="28" y="29.2">False</text><rect class="br" x="33" y="15.2" width="13" height="21.6"/><text class="pc" x="49" y="29.2">21%</text><text class="lb" x="28" y="53.2">True</text><rect class="br" x="33" y="39.2" width="52" height="21.6"/><text class="pc" x="88" y="53.2">79%</text></g>
<g id="n-techrest" transform="translate(705,1557) rotate(90)"><rect class="bx" width="136" height="71"/><path class="ln" d="M0 14H136M0 63H136"/><text class="tt" x="68" y="10.3">Technology Restoration</text><path class="tk" d="M29 26.25H33M29 50.75H33"/><text class="lb" x="28" y="29.45">False</text><rect class="br" x="33" y="15.2" width="26" height="22.1"/><text class="pc" x="62" y="29.45">31.9%</text><text class="lb" x="28" y="53.95">True</text><rect class="br" x="33" y="39.7" width="54" height="22.1"/><text class="pc" x="90" y="53.95">68.1%</text></g>

<g id="n-lostcapacity"><rect class="bx" x="535" y="800" width="81" height="226"/><path class="ln" d="M599 800V1026"/><text class="tt" transform="translate(607.5,913) rotate(90)" y="3.5" style="font-size:10px">Lost Capacity</text><rect class="sg" x="602" y="802" width="11" height="10"/><text class="sgt" transform="translate(607.5,807) rotate(90)" y="3">Σ</text>
<path class="ax" d="M569 818V1026M569 818H596M571 815V818M583 815V818M595 815V818M565 832H569M565 843.85H569M565 855.7H569M565 867.55H569M565 879.4H569M565 891.25H569M565 903.1H569M565 914.95H569M565 926.8H569M565 938.65H569M565 950.5H569M565 962.35H569M565 974.2H569M565 986.05H569M565 997.9H569M565 1009.75H569M565 1021.6H569"/>
<text class="pl" transform="translate(570,814) rotate(90)" y="3">0</text><text class="pl" transform="translate(583,814) rotate(90)" y="3">0.3</text><text class="pl" transform="translate(595,814) rotate(90)" y="3">0.7</text>
<text class="hl" transform="translate(563,828.4) rotate(180)">0</text><text class="hl" transform="translate(563,840.25) rotate(180)">911</text><text class="hl" transform="translate(563,852.1) rotate(180)">1821</text><text class="hl" transform="translate(563,863.95) rotate(180)">2732</text><text class="hl" transform="translate(563,875.8) rotate(180)">3643</text><text class="hl" transform="translate(563,887.65) rotate(180)">4554</text><text class="hl" transform="translate(563,899.5) rotate(180)">5464</text><text class="hl" transform="translate(563,911.35) rotate(180)">6375</text><text class="hl" transform="translate(563,923.2) rotate(180)">7589</text><text class="hl" transform="translate(563,935.05) rotate(180)">8500</text><text class="hl" transform="translate(563,946.9) rotate(180)">9411</text><text class="hl" transform="translate(563,958.75) rotate(180)">10322</text><text class="hl" transform="translate(563,970.6) rotate(180)">11232</text><text class="hl" transform="translate(563,982.45) rotate(180)">12143</text><text class="hl" transform="translate(563,994.3) rotate(180)">13054</text><text class="hl" transform="translate(563,1006.15) rotate(180)">13965</text><text class="hl" transform="translate(563,1018) rotate(180)">15179</text>
<path class="bl" d="M569 832H592M569.6 832V905"/></g>

<g id="n-actualcapacity"><rect class="bx" x="684" y="805" width="81" height="152"/><path class="ln" d="M748 805V957"/><text class="tt" transform="translate(756,881) rotate(90)" y="3.5" style="font-size:10px">Actual Capacity</text><rect class="sg" x="752" y="806" width="11" height="10"/><text class="sgt" transform="translate(757.5,811) rotate(90)" y="3">Σ</text>
<path class="ax" d="M718 848V957M718 848H746M719 845V848M734 845V848M746 845V848M714 860H718M714 871.5H718M714 883H718M714 894.5H718M714 906H718M714 917.5H718M714 929H718M714 940.5H718M714 952H718"/>
<text class="pl" transform="translate(719,844) rotate(90)" y="3">0</text><text class="pl" transform="translate(734,844) rotate(90)" y="3">0.00007</text><text class="pl" transform="translate(746,844) rotate(90)" y="3">0.00014</text>
<text class="hl" transform="translate(712,856.4) rotate(180)">1</text><text class="hl" transform="translate(712,867.9) rotate(180)">1963</text><text class="hl" transform="translate(712,879.4) rotate(180)">3924</text><text class="hl" transform="translate(712,890.9) rotate(180)">5886</text><text class="hl" transform="translate(712,902.4) rotate(180)">8174</text><text class="hl" transform="translate(712,913.9) rotate(180)">10136</text><text class="hl" transform="translate(712,925.4) rotate(180)">12097</text><text class="hl" transform="translate(712,936.9) rotate(180)">14059</text><text class="hl" transform="translate(712,948.4) rotate(180)">16348</text>
<path class="hb" d="M718 857h9.7v2.9h-9.7zM718 859.9h11.7v2.9h-11.7zM718 862.8h13.7v2.9h-13.7zM718 865.7h15.7v2.9h-15.7zM718 868.6h17.7v2.9h-17.7zM718 871.5h19.6v2.9h-19.6zM718 874.4h21.2v2.9h-21.2zM718 877.3h22.5v2.9h-22.5zM718 880.2h23.5v2.9h-23.5zM718 883.1h23.9v2.9h-23.9zM718 886h23.9v2.9h-23.9zM718 888.9h23.5v2.9h-23.5zM718 891.8h22.5v2.9h-22.5zM718 894.7h21.2v2.9h-21.2zM718 897.6h19.6v2.9h-19.6zM718 900.5h17.7v2.9h-17.7zM718 903.4h15.7v2.9h-15.7zM718 906.3h13.7v2.9h-13.7zM718 909.2h11.7v2.9h-11.7zM718 912.1h9.7v2.9h-9.7zM718 915h8v2.9h-8zM718 917.9h6.4v2.9h-6.4zM718 920.8h5v2.9h-5zM718 923.7h3.9v2.9h-3.9zM718 926.6h2.9v2.9h-2.9zM718 929.5h2.2v2.9h-2.2zM718 932.4h1.6v2.9h-1.6z"/>
<path class="bl" d="M718.6 935V955"/></g>

<g id="n-resilience"><rect class="bx" x="669" y="1014" width="96" height="311"/><path class="ln" d="M744 1014V1325"/><text class="tt" transform="translate(754,1170) rotate(90)" y="3.5" style="font-size:10px">Resilience</text><rect class="sg" x="747" y="1016" width="11" height="10"/><text class="sgt" transform="translate(752.5,1021) rotate(90)" y="3">Σ</text>
<path class="ax" d="M691 1043V1325M691 1043H740M692 1040V1043M716 1040V1043M723 1040V1043M731 1040V1043M739 1040V1043M687 1046H691M687 1063.19H691M687 1080.38H691M687 1097.57H691M687 1114.76H691M687 1131.95H691M687 1149.14H691M687 1166.33H691M687 1183.52H691M687 1200.71H691M687 1217.9H691M687 1235.09H691M687 1252.28H691M687 1269.47H691M687 1286.66H691M687 1303.85H691M687 1321.04H691"/>
<text class="pl" transform="translate(692,1039) rotate(90)" y="3">0</text><text class="pl" transform="translate(716,1039) rotate(90)" y="3">0.2</text><text class="pl" transform="translate(723,1039) rotate(90)" y="3">0.3</text><text class="pl" transform="translate(731,1039) rotate(90)" y="3">0.5</text><text class="pl" transform="translate(739,1039) rotate(90)" y="3">0.7</text>
<text class="hl" transform="translate(685,1042.4) rotate(180)">0</text><text class="hl" transform="translate(685,1059.6) rotate(180)">0.5</text><text class="hl" transform="translate(685,1076.8) rotate(180)">1.0</text><text class="hl" transform="translate(685,1094) rotate(180)">1.4</text><text class="hl" transform="translate(685,1111.2) rotate(180)">2.0</text><text class="hl" transform="translate(685,1128.4) rotate(180)">2.5</text><text class="hl" transform="translate(685,1145.5) rotate(180)">3.0</text><text class="hl" transform="translate(685,1162.7) rotate(180)">3.4</text><text class="hl" transform="translate(685,1179.9) rotate(180)">4.0</text><text class="hl" transform="translate(685,1197.1) rotate(180)">4.5</text><text class="hl" transform="translate(685,1214.3) rotate(180)">5.0</text><text class="hl" transform="translate(685,1231.5) rotate(180)">5.4</text><text class="hl" transform="translate(685,1248.7) rotate(180)">6.0</text><text class="hl" transform="translate(685,1265.9) rotate(180)">6.5</text><text class="hl" transform="translate(685,1283.1) rotate(180)">7.0</text><text class="hl" transform="translate(685,1300.3) rotate(180)">7.4</text><text class="hl" transform="translate(685,1317.4) rotate(180)">8.0</text>
<path class="hb" d="M691 1052h3v4.5h-3zM691 1056.5h6v4.5h-6zM691 1061h10v4.5h-10zM691 1065.5h15v4.5h-15zM691 1070h18v4.5h-18zM691 1074.5h15v4.5h-15zM691 1079h9v4.5h-9zM691 1083.5h9v4.5h-9zM691 1088h4v4.5h-4zM691 1092.5h3v4.5h-3zM691 1097h2v4.5h-2zM691 1101.5h1.5v4.5h-1.5z"/>
<path class="bl" d="M691.6 1046V1325M691 1046H697"/><path d="M691 1072.2H737" stroke="#7d93f0" stroke-width="1"/></g>

<g id="n-recoveredcapacity"><rect class="bx" x="534" y="1082" width="81" height="255"/><path class="ln" d="M598 1082V1337"/><text class="tt" transform="translate(606.5,1209.5) rotate(90)" y="3.5" style="font-size:10px">Recovered Capacity</text><rect class="sg" x="601" y="1084" width="11" height="10"/><text class="sgt" transform="translate(606.5,1089) rotate(90)" y="3">Σ</text>
<path class="ax" d="M569 1102V1337M569 1102H595M570 1099V1102M582 1099V1102M594 1099V1102M565 1115H569M565 1127.9H569M565 1140.75H569M565 1153.6H569M565 1166.5H569M565 1179.4H569M565 1192.25H569M565 1205.1H569M565 1218H569M565 1230.9H569M565 1243.75H569M565 1256.6H569M565 1269.5H569M565 1282.4H569M565 1295.25H569M565 1308.1H569M565 1321H569"/>
<text class="pl" transform="translate(570,1098) rotate(90)" y="3">0</text><text class="pl" transform="translate(582,1098) rotate(90)" y="3">0.4</text><text class="pl" transform="translate(594,1098) rotate(90)" y="3">0.8</text>
<text class="hl" transform="translate(563,1111.4) rotate(180)">0</text><text class="hl" transform="translate(563,1124.3) rotate(180)">911</text><text class="hl" transform="translate(563,1137.15) rotate(180)">1821</text><text class="hl" transform="translate(563,1150) rotate(180)">2732</text><text class="hl" transform="translate(563,1162.9) rotate(180)">3643</text><text class="hl" transform="translate(563,1175.8) rotate(180)">4554</text><text class="hl" transform="translate(563,1188.65) rotate(180)">5464</text><text class="hl" transform="translate(563,1201.5) rotate(180)">6375</text><text class="hl" transform="translate(563,1214.4) rotate(180)">7589</text><text class="hl" transform="translate(563,1227.3) rotate(180)">8500</text><text class="hl" transform="translate(563,1240.15) rotate(180)">9411</text><text class="hl" transform="translate(563,1253) rotate(180)">10322</text><text class="hl" transform="translate(563,1265.9) rotate(180)">11232</text><text class="hl" transform="translate(563,1278.8) rotate(180)">12143</text><text class="hl" transform="translate(563,1291.65) rotate(180)">13054</text><text class="hl" transform="translate(563,1304.5) rotate(180)">13965</text><text class="hl" transform="translate(563,1317.4) rotate(180)">15179</text>
<path class="bl" d="M569 1115H592M569.6 1115V1195"/></g>
</g>
</svg>
